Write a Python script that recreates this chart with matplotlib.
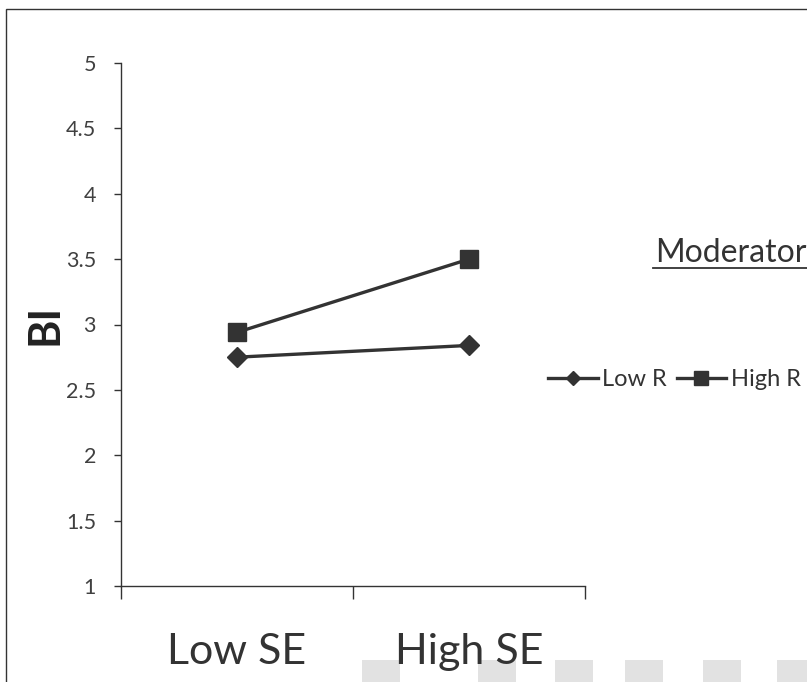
import matplotlib
matplotlib.use("Agg")
import matplotlib.pyplot as plt
from matplotlib.patches import Rectangle
from matplotlib.lines import Line2D

# ---- data ----
categories = ["Low SE", "High SE"]
low_r = [2.75, 2.84]
high_r = [2.94, 3.50]
series_names = ["Low R", "High R"]
y_ticks = [1, 1.5, 2, 2.5, 3, 3.5, 4, 4.5, 5]
y_tick_labels = ["1", "1.5", "2", "2.5", "3", "3.5", "4", "4.5", "5"]
y_label = "BI"
legend_title = "Moderator"

plt.rcParams['font.family'] = ['Lato', 'DejaVu Sans']

W, H = 807, 682
fig = plt.figure(figsize=(W / 100, H / 100), dpi=100)
fig.patch.set_facecolor("white")

# figure frame (partially cropped in reference)
fig.patches.append(Rectangle((6 / W, -0.2), 1.2, 1 - 9 / H + 0.2, transform=fig.transFigure,
                             fill=False, edgecolor="#333333", linewidth=1.0, zorder=-2))
# faint watermark blocks at the bottom
for x0 in [362, 478, 555, 625, 703, 777]:
    fig.patches.append(Rectangle((x0 / W, 0), 38 / W, 22 / H, transform=fig.transFigure,
                                 facecolor="#e2e2e2", edgecolor="none", zorder=-2))

ax = fig.add_axes([121 / W, 1 - 586 / H, (585 - 121) / W, (586 - 63) / H])
ax.set_facecolor("none")

xpos = [i + 0.5 for i in range(len(categories))]
color = "#333333"
ax.plot(xpos, low_r, color=color, linewidth=2.4, marker="D", markersize=10, label=series_names[0])
ax.plot(xpos, high_r, color=color, linewidth=2.4, marker="s", markersize=13, label=series_names[1])

ax.set_xlim(0, len(categories))
ax.set_ylim(1, 5)
ax.set_yticks(y_ticks)
ax.set_yticklabels(y_tick_labels)

ax.set_xticks(range(len(categories) + 1))
ax.set_xticklabels([])
ax.set_xticks(xpos, minor=True)
ax.set_xticklabels(categories, minor=True)

for s in ["top", "right"]:
    ax.spines[s].set_visible(False)
for s in ["left", "bottom"]:
    ax.spines[s].set_color("#333333")
    ax.spines[s].set_linewidth(1.0)

ax.tick_params(axis="y", direction="out", length=5, width=1, color="#333333",
               labelsize=15.5, labelcolor="#404040", pad=13)
ax.tick_params(axis="x", which="major", direction="out", length=9.5, width=1, color="#333333")
ax.tick_params(axis="x", which="minor", length=0, labelsize=31, labelcolor="#333333", pad=34)

ax.set_ylabel(y_label, fontsize=31, fontweight="bold", color="#222222", labelpad=1)

# legend title (underlined)
fig.text(655 / W, 1 - 253 / H, legend_title, fontsize=23, color="#333333",
         ha="left", va="center")
fig.add_artist(Line2D([653 / W, 1.0], [1 - 268 / H, 1 - 268 / H], transform=fig.transFigure,
                      color="#333333", linewidth=1.3))

handles, labels = ax.get_legend_handles_labels()
fig.legend(handles, labels, loc="center left", bbox_to_anchor=(548 / W, 1 - 380 / H),
           ncol=2, frameon=False, fontsize=17, handlelength=2.1, handletextpad=0.2,
           columnspacing=0.4, borderpad=0, borderaxespad=0,
           labelcolor="#333333", markerscale=0.75)

fig.savefig("out.png", dpi=100, facecolor="white")
